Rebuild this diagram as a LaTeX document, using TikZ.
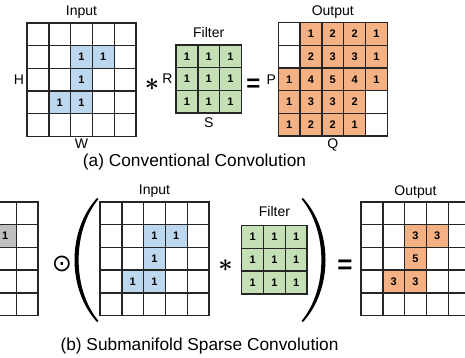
\documentclass[tikz,border=0pt]{standalone}
\usepackage{fontspec}
\setmainfont{Liberation Sans}
\newfontfamily\symfont{DejaVu Sans}
\usetikzlibrary{positioning}

\definecolor{inblue}{HTML}{BDD7EE}
\definecolor{filtgreen}{HTML}{C5E0B4}
\definecolor{outorange}{HTML}{F4B183}
\definecolor{maskgray}{HTML}{BFBFBF}

% one grid: name, x of first centre, y of first centre, fill, rows
\newcommand{\drawgrid}[5]{%
  \foreach \row [count=\i from 0] in {#5} {
    \foreach \v [count=\j from 0] in \row {
      \ifnum\v=0
        \node[cell] (#1-\i-\j) at ({#2+21.8*\j},{#3+22.7*\i}) {};
      \else
        \node[cell, fill=#4] (#1-\i-\j) at ({#2+21.8*\j},{#3+22.7*\i}) {\v};
      \fi
    }
  }%
}

\begin{document}
\begin{tikzpicture}[x=1pt, y=-1pt]
    % Define styles
    \tikzstyle{cell} = [rectangle, draw=black!85, line width=1.4pt, minimum width=21.8pt, minimum height=22.7pt, inner sep=0pt, font=\fontsize{11}{11}\selectfont\bfseries]
    \tikzstyle{label} = [inner sep=0pt, font=\fontsize{14}{14}\selectfont]
    \tikzstyle{caption} = [inner sep=0pt, font=\fontsize{17.3}{17.3}\selectfont]
    \tikzstyle{oper} = [inner sep=0pt]
    \tikzstyle{paren} = [fill=black]

    \useasboundingbox (0,0) rectangle (465,358);

    % (a) Conventional Convolution
    \drawgrid{ina}{37.9}{34.3}{inblue}{{0,0,0,0,0},{0,0,1,1,0},{0,0,1,0,0},{0,1,1,0,0},{0,0,0,0,0}}
    \drawgrid{fila}{186.9}{56.3}{filtgreen}{{1,1,1},{1,1,1},{1,1,1}}
    \drawgrid{outa}{289.2}{34.0}{outorange}{{0,1,2,2,1},{0,2,3,3,1},{1,4,5,4,1},{1,3,3,2,0},{1,2,2,1,0}}

    \node[label, above=4pt of ina-0-2] (ina-title) {Input};
    \node[label, left=2pt of ina-2-0] (ina-h) {H};
    \node[label, below=2pt of ina-4-2] (ina-w) {W};
    \node[label, above=6pt of fila-0-1] (fila-title) {Filter};
    \node[label, left=2.5pt of fila-1-0] (fila-r) {R};
    \node[label, below=4pt of fila-2-1] (fila-s) {S};
    \node[label, above=3pt of outa-0-2] (outa-title) {Output};
    \node[label, left=1.5pt of outa-2-0] (outa-p) {P};
    \node[label, below=2pt of outa-4-2] (outa-q) {Q};

    \node[oper, font=\fontsize{26}{26}\selectfont\mathversion{bold}] (conva) at (152,85) {$\ast$};
    \node[oper, font=\fontsize{24}{24}\selectfont\bfseries] (eqa) at (253.5,85.5) {=};

    \node[caption] (capa) at (194.5,162) {(a) Conventional Convolution};

    % (b) Submanifold Sparse Convolution
    % mask grid, only its right part lies inside the picture
    \drawgrid{mask}{5.3}{213.35}{maskgray}{{0,0},{1,0},{0,0},{0,0},{0,0}}
    \drawgrid{inb}{110.9}{213.35}{inblue}{{0,0,0,0,0},{0,0,1,1,0},{0,0,1,0,0},{0,1,1,0,0},{0,0,0,0,0}}
    \drawgrid{filb}{252.6}{237.05}{filtgreen}{{1,1,1},{1,1,1},{1,1,1}}
    \drawgrid{outb}{371.9}{213.35}{outorange}{{0,0,0,0,0},{0,0,3,3,0},{0,0,5,0,0},{0,3,3,0,0},{0,0,0,0,0}}

    \node[label, above=4pt of inb-0-2] (inb-title) {Input};
    \node[label, above=8pt of filb-0-1] (filb-title) {Filter};
    \node[label, above=2.5pt of outb-0-2] (outb-title) {Output};

    \node[oper, font=\fontsize{24}{24}\selectfont\symfont] (odotb) at (62,264) {⊙};
    \node[oper, font=\fontsize{28}{28}\selectfont\mathversion{bold}] (convb) at (225.5,265.5) {$\ast$};
    \node[oper, font=\fontsize{26}{26}\selectfont\bfseries] (eqb) at (345,266.5) {=};

    % big brackets
    \path[paren] (97,198) .. controls (67,231) and (67,289) .. (97,322)
        -- (98.5,321) .. controls (72,289) and (72,231) .. (98.5,199) -- cycle;
    \path[paren] (303,198) .. controls (333,231) and (333,289) .. (303,322)
        -- (301.5,321) .. controls (328,289) and (328,231) .. (301.5,199) -- cycle;

    \node[caption] (capb) at (199.5,346.5) {(b) Submanifold Sparse Convolution};
\end{tikzpicture}
\end{document}
